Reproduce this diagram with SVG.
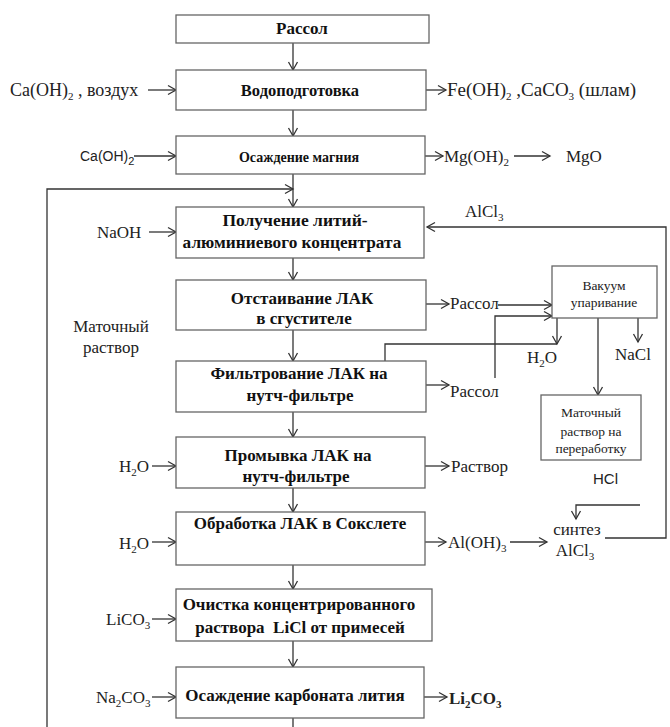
<svg xmlns="http://www.w3.org/2000/svg" width="670" height="727" viewBox="0 0 670 727">
<style>
.box{fill:#fff;stroke:#666;stroke-width:1.3}
.ln{fill:none;stroke:#333;stroke-width:1.3}
.b{font-weight:bold;font-size:17px;fill:#111;text-anchor:middle}
.s{font-size:17px;fill:#222}
.sm{font-size:13.5px;fill:#222;text-anchor:middle}
.ss{font-size:14px;fill:#222}
.sub{font-size:11px}
</style>
<defs>
<marker id="a" markerWidth="12" markerHeight="12" refX="10" refY="6" orient="auto" markerUnits="userSpaceOnUse">
<path d="M2,1.5 L10,6 L2,10.5" fill="none" stroke="#333" stroke-width="1.3"/>
</marker>
</defs>
<g id="connectors">
<line class="ln" x1="293" y1="43" x2="293" y2="70" marker-end="url(#a)"/>
<line class="ln" x1="293" y1="110" x2="293" y2="136" marker-end="url(#a)"/>
<line class="ln" x1="293" y1="174" x2="293" y2="207" marker-end="url(#a)"/>
<line class="ln" x1="293" y1="258" x2="293" y2="280" marker-end="url(#a)"/>
<line class="ln" x1="293" y1="330" x2="293" y2="361" marker-end="url(#a)"/>
<line class="ln" x1="293" y1="412" x2="293" y2="437" marker-end="url(#a)"/>
<line class="ln" x1="293" y1="488" x2="293" y2="512" marker-end="url(#a)"/>
<line class="ln" x1="293" y1="565" x2="293" y2="589" marker-end="url(#a)"/>
<line class="ln" x1="293" y1="641" x2="293" y2="667" marker-end="url(#a)"/>
<line class="ln" x1="293" y1="718" x2="293" y2="727"/>
<polyline class="ln" points="47,727 47,189 293,189" marker-end="url(#a)"/>
<polyline class="ln" points="605,538 666,538 666,227 427,227" marker-end="url(#a)"/>
<line class="ln" x1="148" y1="90" x2="176" y2="90" marker-end="url(#a)"/>
<line class="ln" x1="134" y1="156" x2="176" y2="156" marker-end="url(#a)"/>
<line class="ln" x1="149" y1="232" x2="176" y2="232" marker-end="url(#a)"/>
<line class="ln" x1="152" y1="466" x2="176" y2="466" marker-end="url(#a)"/>
<line class="ln" x1="152" y1="542" x2="176" y2="542" marker-end="url(#a)"/>
<line class="ln" x1="152" y1="619" x2="176" y2="619" marker-end="url(#a)"/>
<line class="ln" x1="152" y1="697" x2="176" y2="697" marker-end="url(#a)"/>
<line class="ln" x1="426" y1="90" x2="446" y2="90" marker-end="url(#a)"/>
<line class="ln" x1="425" y1="156" x2="443" y2="156" marker-end="url(#a)"/>
<line class="ln" x1="514" y1="156" x2="550" y2="156" marker-end="url(#a)"/>
<line class="ln" x1="426" y1="304" x2="449" y2="304" marker-end="url(#a)"/>
<line class="ln" x1="426" y1="385" x2="449" y2="385" marker-end="url(#a)"/>
<line class="ln" x1="425" y1="466" x2="449" y2="466" marker-end="url(#a)"/>
<line class="ln" x1="425" y1="542" x2="446" y2="542" marker-end="url(#a)"/>
<line class="ln" x1="510" y1="542" x2="547" y2="542" marker-end="url(#a)"/>
<line class="ln" x1="424" y1="697" x2="447" y2="697" marker-end="url(#a)"/>
<polyline class="ln" points="498,305 552,305" marker-end="url(#a)"/>
<polyline class="ln" points="495,378 495,316 552,316" marker-end="url(#a)"/>
<line class="ln" x1="557" y1="318" x2="557" y2="344" marker-end="url(#a)"/>
<polyline class="ln" points="385,361 385,344 557,344"/>
<line class="ln" x1="638" y1="318" x2="638" y2="342" marker-end="url(#a)"/>
<line class="ln" x1="598" y1="318" x2="598" y2="395" marker-end="url(#a)"/>
<polyline class="ln" points="640,505 576,505 576,519" marker-end="url(#a)"/>
</g>
<g font-family="Liberation Serif, Times New Roman, Times, DejaVu Serif, serif">
<g id="n1"><rect class="box" x="176" y="15" width="253" height="28"/><text class="b" x="302" y="34">Рассол</text></g>
<g id="n2"><rect class="box" x="176" y="70" width="250" height="40"/><text class="b" x="300" y="96" style="font-size:16.5px">Водоподготовка</text></g>
<g id="n3"><rect class="box" x="176" y="136" width="249" height="38"/><text class="b" x="299" y="162" style="font-size:14px">Осаждение магния</text></g>
<g id="n4"><rect class="box" x="176" y="207" width="248" height="51"/><text class="b" x="295" y="226" style="font-size:17.5px">Получение литий-</text><text class="b" x="292" y="248" style="font-size:17.3px">алюминиевого концентрата</text></g>
<g id="n5"><rect class="box" x="176" y="280" width="250" height="50"/><text class="b" x="302" y="304">Отстаивание ЛАК</text><text class="b" x="304" y="324">в сгустителе</text></g>
<g id="n6"><rect class="box" x="176" y="361" width="250" height="51"/><text class="b" x="299" y="379">Фильтрование ЛАК на</text><text class="b" x="300" y="401">нутч-фильтре</text></g>
<g id="n7"><rect class="box" x="176" y="437" width="249" height="51"/><text class="b" x="298" y="461">Промывка ЛАК на</text><text class="b" x="296" y="482">нутч-фильтре</text></g>
<g id="n8"><rect class="box" x="176" y="512" width="249" height="53"/><text class="b" x="300" y="529">Обработка ЛАК в Сокслете</text></g>
<g id="n9"><rect class="box" x="176" y="589" width="256" height="52"/><text class="b" x="299" y="610">Очистка концентрированного</text><text class="b" x="300" y="633" xml:space="preserve">раствора  LiCl от примесей</text></g>
<g id="n10"><rect class="box" x="176" y="667" width="248" height="51"/><text class="b" x="295" y="701">Осаждение карбоната лития</text></g>
<g id="vac"><rect class="box" x="552" y="266" width="105" height="52"/><text class="sm" x="604" y="290">Вакуум</text><text class="sm" x="604" y="307">упаривание</text></g>
<g id="mat"><rect class="box" x="541" y="395" width="100" height="65"/><text class="sm" x="591" y="417">Маточный</text><text class="sm" x="591" y="436">раствор на</text><text class="sm" x="591" y="453">переработку</text></g>
<g id="labels">
<text class="s" x="10" y="96" style="font-size:18px">Ca(OH)<tspan class="sub" dy="4">2</tspan><tspan dy="-4"> , воздух</tspan></text>
<text class="s" x="447" y="96" style="font-size:19px">Fe(OH)<tspan class="sub" dy="4">2</tspan><tspan dy="-4"> ,CaCO</tspan><tspan class="sub" dy="4">3</tspan><tspan dy="-4"> (шлам)</tspan></text>
<text class="ss" x="80" y="161" font-family="Liberation Sans, Arial, sans-serif">Ca(OH)<tspan class="sub" dy="4">2</tspan></text>
<text class="s" x="444" y="162">Mg(OH)<tspan class="sub" dy="4">2</tspan></text>
<text class="s" x="566" y="162">MgO</text>
<text class="s" x="97" y="238">NaOH</text>
<text class="s" x="465" y="217">AlCl<tspan class="sub" dy="4">3</tspan></text>
<text class="s" x="111" y="332" text-anchor="middle">Маточный</text>
<text class="s" x="111" y="353" text-anchor="middle">раствор</text>
<text class="s" x="450" y="309">Рассол</text>
<text class="s" x="450" y="397">Рассол</text>
<text class="s" x="527" y="363">H<tspan class="sub" dy="4">2</tspan><tspan dy="-4">O</tspan></text>
<text class="s" x="615" y="360">NaCl</text>
<text class="ss" x="593" y="484" style="font-size:15px" font-family="Liberation Sans, Arial, sans-serif">HCl</text>
<text class="s" x="119" y="472">H<tspan class="sub" dy="4">2</tspan><tspan dy="-4">O</tspan></text>
<text class="s" x="451" y="472">Раствор</text>
<text class="s" x="119" y="549">H<tspan class="sub" dy="4">2</tspan><tspan dy="-4">O</tspan></text>
<text class="s" x="448" y="548">Al(OH)<tspan class="sub" dy="4">3</tspan></text>
<text class="s" x="577" y="535" text-anchor="middle">синтез</text>
<text class="s" x="575" y="556" text-anchor="middle">AlCl<tspan class="sub" dy="4">3</tspan></text>
<text class="s" x="106" y="625">LiCO<tspan class="sub" dy="4">3</tspan></text>
<text class="s" x="96" y="703">Na<tspan class="sub" dy="4">2</tspan><tspan dy="-4">CO</tspan><tspan class="sub" dy="4">3</tspan></text>
<text class="s" x="449" y="704" font-weight="bold">Li<tspan class="sub" dy="4">2</tspan><tspan dy="-4">CO</tspan><tspan class="sub" dy="4">3</tspan></text>
</g>
</g>
</svg>
